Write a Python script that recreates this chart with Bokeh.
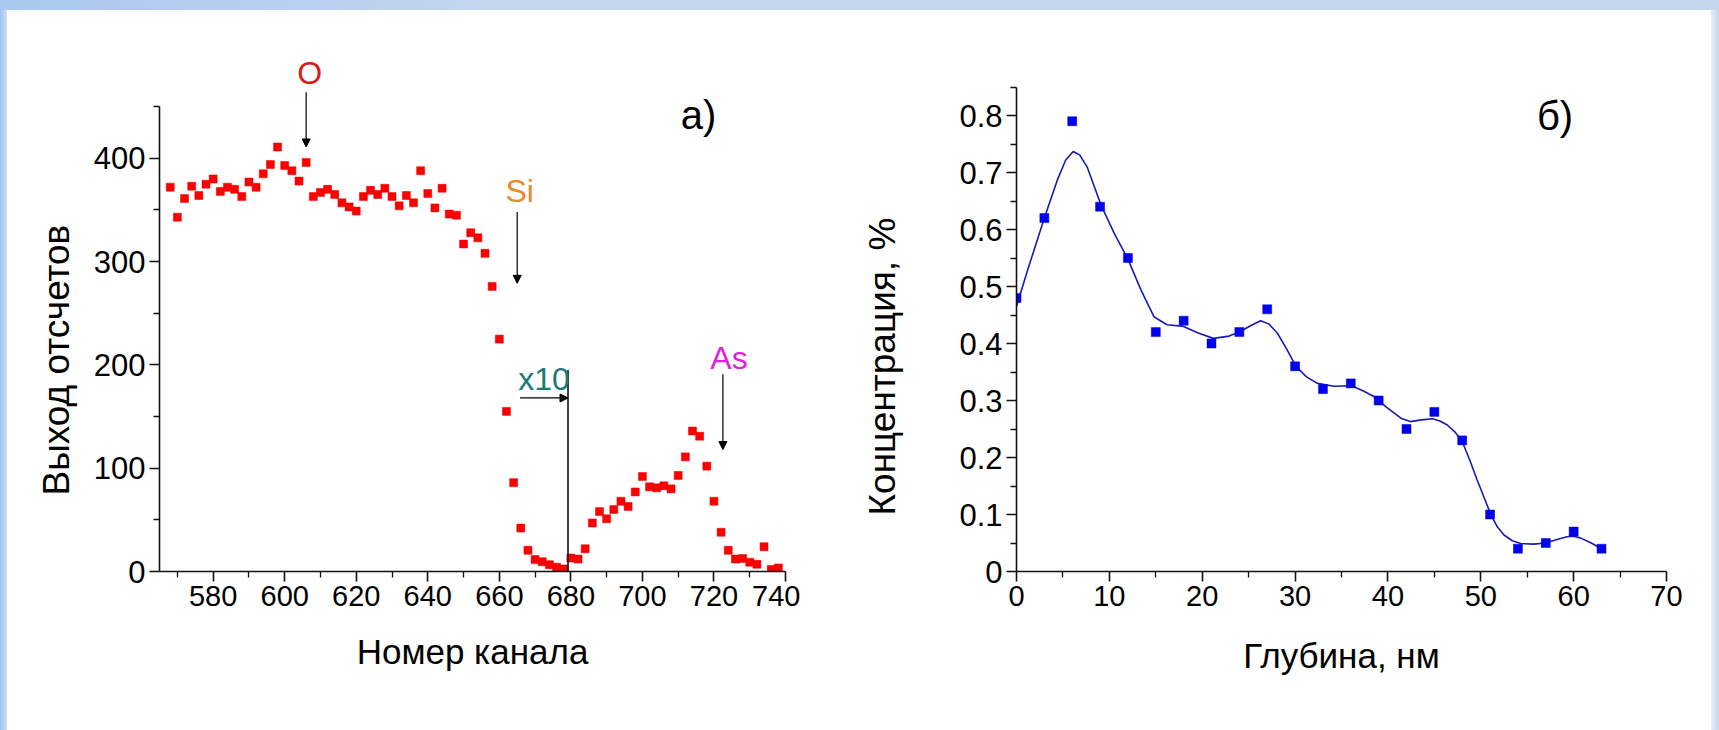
from bokeh.plotting import figure
from bokeh.models import (FixedTicker, Label, Arrow, NormalHead, Range1d, Title, Div)
from bokeh.layouts import row, column
from bokeh.embed import file_html
from bokeh.resources import INLINE

# ---------------- data: panel a) ----------------
channels = list(range(568, 740, 2))
counts = [372, 343, 361, 373, 364, 375, 380, 368, 372, 370,
          363, 377, 372, 385, 394, 411, 393, 388, 378, 396,
          363, 367, 370, 365, 357, 353, 349, 363, 369, 365,
          371, 363, 354, 364, 357, 388, 366, 352, 371, 346,
          345, 317, 328, 323, 308, 276, 225,
          155, 86, 42, 20.5, 11.5, 9.5, 6.6, 4.2, 2.5,
          13, 12, 22, 47, 58, 51, 60, 68, 63, 77,
          92, 82, 81, 83, 80, 93, 111, 136, 131, 102,
          68, 38, 20.5, 12, 12.5, 9, 7, 24, 2, 3.5]
x10_channel = 679.2
x_ticks_a = [580, 600, 620, 640, 660, 680, 700, 720, 740]
y_ticks_a = [0, 100, 200, 300, 400]

# ---------------- data: panel б) ----------------
depth = [0, 3, 6, 9, 12, 15, 18, 21, 24, 27, 30, 33, 36, 39, 42, 45, 48, 51, 54, 57, 60, 63]
conc = [0.48, 0.62, 0.79, 0.64, 0.55, 0.42, 0.44, 0.40, 0.42, 0.46, 0.36,
        0.32, 0.33, 0.30, 0.25, 0.28, 0.23, 0.10, 0.04, 0.05, 0.07, 0.04]
curve_depth = [0, 1.2, 3.0, 4.4, 5.3, 6.1, 6.8, 7.6, 9.1, 10.5, 12.0, 13.4, 14.8, 16.2, 18.0,
               19.5, 21.2, 22.9, 24.1, 25.3, 26.3, 27.2, 28.1, 29.1, 30.1, 31.2, 32.4,
               34.2, 36.1, 37.3, 38.5, 39.8, 41.4, 42.4, 43.6, 44.8, 45.6, 46.4, 47.2,
               48.0, 48.8, 49.6, 50.4, 51.1, 51.8, 52.5, 53.4, 54.3, 55.7, 57.0, 58.2,
               59.3, 60.0, 60.7, 61.9, 63.1]
curve_conc = [0.465, 0.529, 0.62, 0.687, 0.722, 0.737, 0.731, 0.71, 0.643, 0.594, 0.548,
              0.494, 0.447, 0.433, 0.43, 0.419, 0.409, 0.413, 0.421, 0.432, 0.44, 0.434,
              0.418, 0.39, 0.36, 0.342, 0.33, 0.325, 0.326, 0.317, 0.307, 0.289, 0.269,
              0.263, 0.266, 0.268, 0.264, 0.257, 0.245, 0.228, 0.196, 0.161, 0.128, 0.099,
              0.078, 0.064, 0.054, 0.049, 0.048, 0.05, 0.056, 0.061, 0.062, 0.059, 0.05, 0.039]
x_ticks_b = [0, 10, 20, 30, 40, 50, 60, 70]
y_ticks_b = [0.0, 0.1, 0.2, 0.3, 0.4, 0.5, 0.6, 0.7, 0.8]

FONT = "Liberation Sans"
BAND = "#c3d7ee"

# shared vertical layout (pixels)
FIG_H = 720
TOP = 43
BOTTOM = 159


def style_axes(p):
    p.outline_line_color = None
    p.grid.visible = False
    for ax in (p.xaxis[0], p.yaxis[0]):
        ax.axis_line_color = "#111111"
        ax.axis_line_width = 1.6
        ax.major_tick_line_color = "#111111"
        ax.major_tick_line_width = 1.6
        ax.minor_tick_line_color = "#111111"
        ax.minor_tick_line_width = 1.3
        ax.major_tick_in = 0
        ax.major_tick_out = 10
        ax.minor_tick_in = 0
        ax.minor_tick_out = 6
        ax.major_label_text_font = FONT
        ax.major_label_text_color = "#000000"
        ax.major_label_standoff = 4
        ax.axis_label_text_font = FONT
        ax.axis_label_text_font_style = "normal"
        ax.axis_label_text_color = "#000000"
    p.xaxis[0].major_label_text_font_size = "29px"
    p.yaxis[0].major_label_text_font_size = "31px"


def text_label(p, x, y, txt, color="#000000", size="32px"):
    p.add_layout(Label(x=x, y=y, text=txt, text_color=color, text_font=FONT,
                       text_font_size=size, text_align="center",
                       text_baseline="middle"))


def arrow(p, x0, y0, x1, y1):
    p.add_layout(Arrow(x_start=x0, y_start=y0, x_end=x1, y_end=y1,
                       line_color="#000000", line_width=1.2,
                       end=NormalHead(size=8, fill_color="#000000",
                                      line_color="#000000", line_width=1)))


def y_title(p, txt, offset, standoff):
    p.add_layout(Title(text=txt, align="left", offset=offset, standoff=standoff,
                       text_font=FONT, text_font_size="37px",
                       text_font_style="normal", text_color="#000000"), "left")


# ---------------- panel a) ----------------
pa = figure(width=793, height=FIG_H, output_backend="svg", toolbar_location=None,
            x_range=Range1d(565, 740), y_range=Range1d(0, 501.5),
            min_border_left=152, min_border_right=15,
            min_border_top=TOP, min_border_bottom=BOTTOM)
style_axes(pa)
pa.xaxis[0].ticker = FixedTicker(ticks=x_ticks_a,
                                 minor_ticks=[t - 10 for t in x_ticks_a])
pa.yaxis[0].ticker = FixedTicker(ticks=y_ticks_a,
                                 minor_ticks=[t + 50 for t in y_ticks_a])
pa.yaxis[0].bounds = (0, 450)
pa.xaxis[0].axis_label = "Номер канала"
pa.xaxis[0].axis_label_text_font_size = "35px"
pa.xaxis[0].axis_label_standoff = 23
y_title(pa, "Выход отсчетов", 76, 28)

pa.scatter(channels, counts, marker="square", size=8,
           fill_color="#ff0000", line_color="#e00000", line_width=0.5)

# x10 marker line
pa.segment(x0=[x10_channel], y0=[0], x1=[x10_channel], y1=[195],
           line_color="#111111", line_width=1.6)
arrow(pa, 665.8, 168, x10_channel, 168)
text_label(pa, 672.5, 186, "x10", color="#1a7a78")

arrow(pa, 606, 464, 606, 411)
text_label(pa, 607, 483, "O", color="#dd1a1a")
arrow(pa, 665, 348, 665, 279)
text_label(pa, 665.7, 368, "Si", color="#e8892a")
arrow(pa, 722.5, 191, 722.5, 118)
text_label(pa, 724.2, 207, "As", color="#e020e0")
text_label(pa, 715.7, 442, "а)", size="40px")

# ---------------- panel б) ----------------
pb = figure(width=911, height=FIG_H, output_backend="svg", toolbar_location=None,
            x_range=Range1d(0, 70), y_range=Range1d(0, 0.9088),
            min_border_left=216, min_border_right=45,
            min_border_top=TOP, min_border_bottom=BOTTOM)
style_axes(pb)
pb.xaxis[0].ticker = FixedTicker(ticks=x_ticks_b,
                                 minor_ticks=[t + 5 for t in x_ticks_b[:-1]])
pb.yaxis[0].ticker = FixedTicker(ticks=y_ticks_b,
                                 minor_ticks=[round(t + 0.05, 2) for t in y_ticks_b])
pb.yaxis[0].bounds = (0, 0.85)
pb.yaxis[0].formatter.use_scientific = False
pb.xaxis[0].axis_label = "Глубина, нм"
pb.xaxis[0].axis_label_text_font_size = "35px"
pb.xaxis[0].axis_label_standoff = 27
y_title(pb, "Концентрация, %", 56, 108)

pb.line(curve_depth, curve_conc, line_color="#1a1ab0", line_width=1.6)
pb.scatter(depth, conc, marker="square", size=9,
           fill_color="#0000ee", line_color="#0000cc", line_width=0.5)
text_label(pb, 58.0, 0.80, "б)", size="40px")

# ---------------- page frame (light-blue bands) ----------------
top_band = Div(text="", width=1719, height=10, margin=0,
               styles={"background": "linear-gradient(to right, #a9c8ef, %s 30%%, %s)" % (BAND, BAND)})
left_band = Div(text="", width=7, height=FIG_H, margin=0,
                styles={"background": "linear-gradient(to right, #9fc2ee, #cfe0f5)"})
right_band = Div(text="", width=8, height=FIG_H, margin=0,
                 styles={"background": "linear-gradient(to right, #e6eef9, %s)" % BAND})

layout = column(top_band, row(left_band, pa, pb, right_band, spacing=0), spacing=0)
open("out.html", "w").write(file_html(layout, INLINE))
